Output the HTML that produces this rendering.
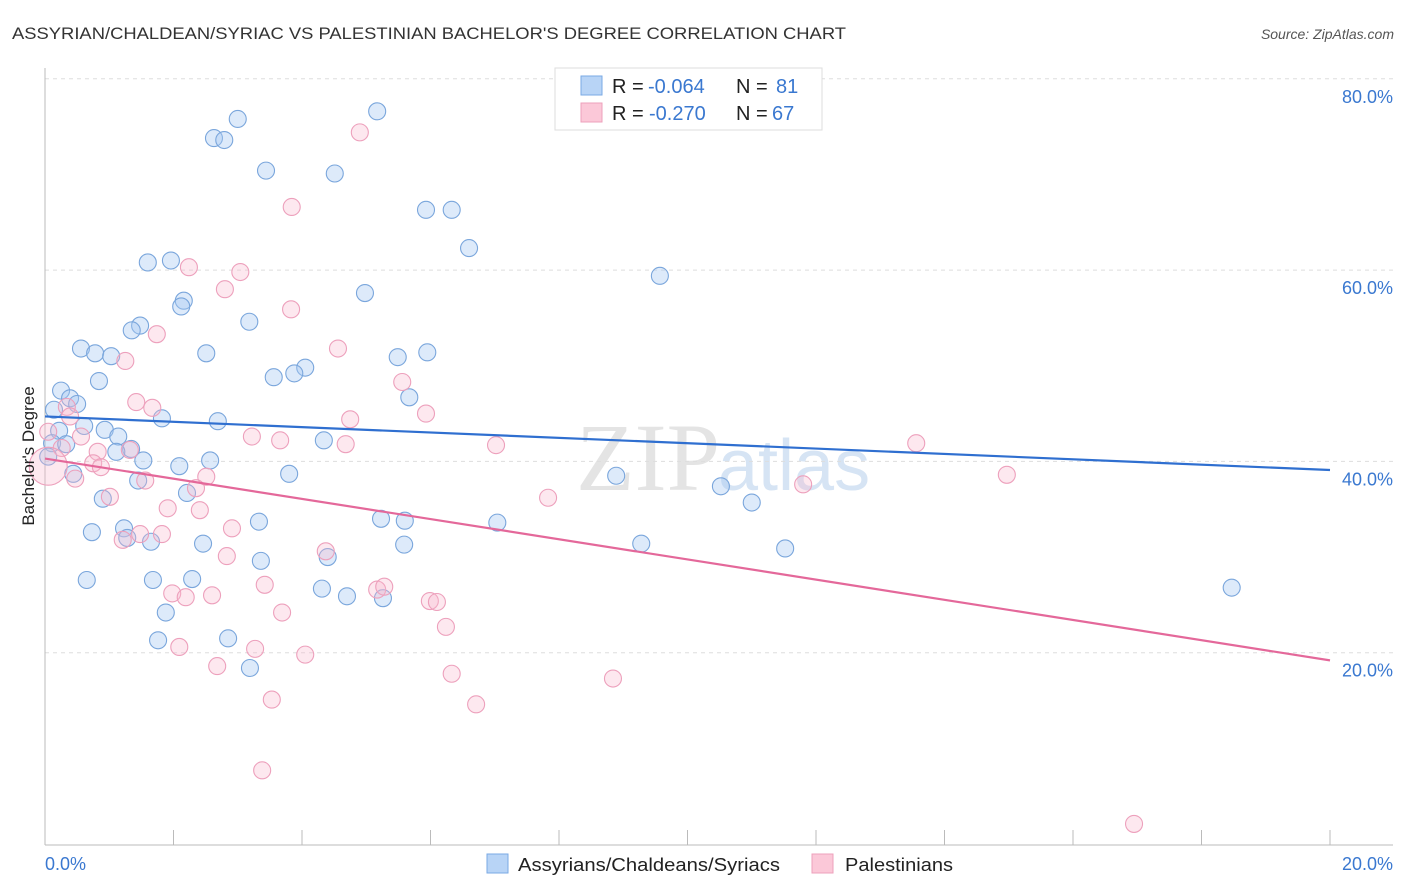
<!DOCTYPE html>
<html><head><meta charset="utf-8"><style>
body{margin:0;background:#fff;font-family:"Liberation Sans",sans-serif;}
svg{display:block}
</style></head><body>
<svg id="chart" width="1406" height="892">
<text x="12" y="39" font-size="17" fill="#333" textLength="834" lengthAdjust="spacingAndGlyphs">ASSYRIAN/CHALDEAN/SYRIAC VS PALESTINIAN BACHELOR'S DEGREE CORRELATION CHART</text>
<text x="1394" y="39" font-size="14" fill="#555" font-style="italic" text-anchor="end">Source: ZipAtlas.com</text>
<text x="720" y="490" font-size="96" fill="#e4e4e4" text-anchor="end" font-family="Liberation Serif,serif">ZIP</text>
<text x="718" y="490" font-size="72" fill="#d6e4f4">atlas</text>
<g id="grid"></g>
<g id="axes"></g>
<g id="marks"></g>
<text transform="translate(34,456) rotate(-90)" font-size="17" fill="#222" text-anchor="middle">Bachelor's Degree</text>
<g>
<rect x="555" y="68" width="267" height="62" fill="#fff" stroke="#ddd"/>
<rect x="581" y="76" width="21" height="19" fill="#b8d4f6" stroke="#7aaae4"/>
<rect x="581" y="103" width="21" height="19" fill="#fbc8d8" stroke="#eea0bb"/>
<text x="612" y="93" font-size="20" fill="#222">R =</text>
<text x="648" y="93" font-size="20" fill="#3a78d0">-0.064</text>
<text x="736" y="93" font-size="20" fill="#222">N =</text>
<text x="776" y="93" font-size="20" fill="#3a78d0">81</text>
<text x="612" y="120" font-size="20" fill="#222">R =</text>
<text x="649" y="120" font-size="20" fill="#3a78d0">-0.270</text>
<text x="736" y="120" font-size="20" fill="#222">N =</text>
<text x="772" y="120" font-size="20" fill="#3a78d0">67</text>
</g>
<g>
<rect x="487" y="854" width="21" height="19" fill="#b8d4f6" stroke="#7aaae4"/>
<text x="518" y="871" font-size="18" fill="#222" textLength="262" lengthAdjust="spacingAndGlyphs">Assyrians/Chaldeans/Syriacs</text>
<rect x="812" y="854" width="21" height="19" fill="#fbc8d8" stroke="#eea0bb"/>
<text x="845" y="871" font-size="18" fill="#222" textLength="108" lengthAdjust="spacingAndGlyphs">Palestinians</text>
</g>
</svg>
<script>
const yTicks=[20,40,60,80];
const yTickLabels=["20.0%","40.0%","60.0%","80.0%"];
const xTicks=[0,2,4,6,8,10,12,14,16,18,20];
const blueX=[3.00,5.17,2.63,2.79,3.44,4.51,5.93,6.33,6.60,9.57,1.60,1.96,2.16,2.12,4.98,3.18,1.48,1.35,0.56,0.78,1.03,2.51,5.49,5.95,4.05,3.88,3.56,0.84,0.25,0.39,0.50,5.67,0.14,1.82,2.69,0.61,0.22,0.93,1.14,4.34,0.11,0.33,1.34,1.11,1.53,0.05,2.09,2.57,3.80,0.44,8.89,10.52,11.00,0.90,1.45,2.21,1.23,0.73,1.28,1.65,2.46,3.33,5.23,5.60,7.04,5.59,4.40,3.36,9.28,11.52,0.65,1.68,2.29,4.31,4.70,5.26,1.88,2.85,1.76,3.19,18.47];
const blueY=[75.8,76.6,73.8,73.6,70.4,70.1,66.3,66.3,62.3,59.4,60.8,61.0,56.8,56.2,57.6,54.6,54.2,53.7,51.8,51.3,51.0,51.3,50.9,51.4,49.8,49.2,48.8,48.4,47.4,46.6,46.0,46.7,45.4,44.5,44.2,43.7,43.2,43.3,42.6,42.2,41.9,41.8,41.3,41.0,40.1,40.5,39.5,40.1,38.7,38.7,38.5,37.4,35.7,36.1,38.0,36.7,33.0,32.6,32.0,31.6,31.4,33.7,34.0,33.8,33.6,31.3,30.0,29.6,31.4,30.9,27.6,27.6,27.7,26.7,25.9,25.7,24.2,21.5,21.3,18.4,26.8];
const pinkX=[4.90,3.84,2.24,3.04,2.80,3.83,1.74,4.56,1.25,5.56,1.42,1.67,0.34,0.39,5.93,4.75,0.56,0.05,3.22,3.66,4.68,7.02,13.56,0.26,0.82,1.32,0.75,0.87,0.47,1.56,2.51,2.35,1.01,7.83,11.80,14.97,1.91,2.41,2.91,1.48,1.21,1.82,2.83,4.37,3.42,1.98,2.19,2.60,5.17,5.28,3.69,5.99,6.10,6.24,2.09,3.27,4.05,2.68,6.33,8.84,3.53,6.71,3.38,16.95,0.05];
const pinkY=[74.4,66.6,60.3,59.8,58.0,55.9,53.3,51.8,50.5,48.3,46.2,45.6,45.7,44.7,45.0,44.4,42.6,43.1,42.6,42.2,41.8,41.7,41.9,41.4,41.0,41.2,39.8,39.4,38.2,38.0,38.4,37.2,36.3,36.2,37.6,38.6,35.1,34.9,33.0,32.4,31.8,32.4,30.1,30.6,27.1,26.2,25.8,26.0,26.6,26.9,24.2,25.4,25.3,22.7,20.6,20.4,19.8,18.6,17.8,17.3,15.1,14.6,7.7,2.1,39.5];
const blueTrend=[44.7,39.1];
const pinkTrend=[40.3,19.2];
const NS="http://www.w3.org/2000/svg";
const sx=v=>45+v/20*1285, sy=v=>844-v/20*191.3;
function mk(t,a,p){const e=document.createElementNS(NS,t);for(const k in a)e.setAttribute(k,a[k]);p.appendChild(e);return e;}
const grid=document.getElementById('grid'),axes=document.getElementById('axes'),marks=document.getElementById('marks');
yTicks.forEach((v,i)=>{
 const l=mk('line',{x1:45,x2:1393,y1:sy(v),y2:sy(v),stroke:'#ddd','stroke-dasharray':'4,4'},grid);
 
 
 const t=mk('text',{x:1393,y:sy(v)+24,'font-size':18,fill:'#3a78d0','text-anchor':'end'},axes);
 t.textContent=yTickLabels[i];
 
 
});
mk('line',{x1:45,x2:45,y1:68,y2:845,stroke:'#bbb'},axes);
mk('line',{x1:45,x2:1393,y1:845,y2:845,stroke:'#bbb'},axes);
xTicks.forEach(v=>{
 const l=mk('line',{x1:sx(v),x2:sx(v),y1:830,y2:845,stroke:'#bbb'},axes);
 
 
});
const x0=mk('text',{x:45,y:870,'font-size':18,fill:'#3a78d0'},axes);x0.textContent='0.0%';


const x1=mk('text',{x:1393,y:870,'font-size':18,fill:'#3a78d0','text-anchor':'end'},axes);x1.textContent='20.0%';


function pts(X,Y,fill,stroke,name){
 X.forEach((x,i)=>{
  const big=(x<0.1&&name==='pink-point'&&Y[i]<40);
  const c=mk('circle',{cx:sx(x),cy:sy(Y[i]),r:big?19:8.5,fill:fill,stroke:stroke,'stroke-width':1.1},marks);
  
  
 });
}
pts(blueX,blueY,'rgba(165,199,242,0.38)','#7aa6dc','blue-point');
pts(pinkX,pinkY,'rgba(248,185,205,0.32)','#eda0bc','pink-point');
const bl=mk('line',{x1:sx(0),y1:sy(blueTrend[0]),x2:sx(20),y2:sy(blueTrend[1]),stroke:'#2f6fd0','stroke-width':2.2},marks);


const pl=mk('line',{x1:sx(0),y1:sy(pinkTrend[0]),x2:sx(20),y2:sy(pinkTrend[1]),stroke:'#e4689a','stroke-width':2.2},marks);


</script>
</body></html>
